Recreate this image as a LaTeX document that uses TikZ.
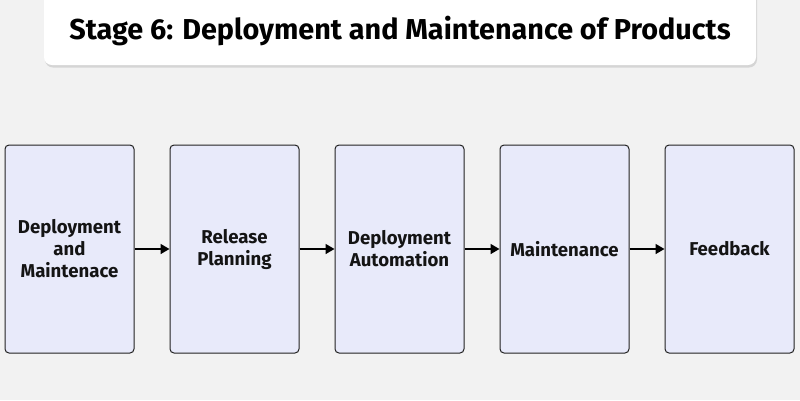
\documentclass[tikz,border=0pt]{standalone}
\usepackage{fontspec}
\setmainfont{Fira Sans}
\usetikzlibrary{shadows,arrows.meta}
\definecolor{bg}{HTML}{F2F2F2}
\definecolor{boxfill}{HTML}{E8EAFA}
\definecolor{boxline}{HTML}{222222}
\tikzset{
  stagebox/.style={draw=boxline, line width=1pt, fill=boxfill, rounded corners=4pt,
    minimum width=129pt, minimum height=208pt, inner sep=0pt, align=center,
    font=\fontsize{18.6}{22}\selectfont\bfseries, text=black!92},
  flowarrow/.style={-{Triangle[length=9pt,width=10pt]}, line width=1.6pt, black},
}
\begin{document}
\begin{tikzpicture}[x=1pt,y=-1pt]
\useasboundingbox (0,0) rectangle (800,400);
\fill[bg] (0,0) rectangle (800,400);
\node[fill=white, rounded corners=8pt, minimum width=712pt, minimum height=80pt,
  drop shadow={opacity=0.25, shadow xshift=1pt, shadow yshift=-2.5pt}] (titlebg) at (400,25) {};
\node[font=\fontsize{28.8}{32}\selectfont\bfseries, text=black] (title) at (400,31) {Stage 6: Deployment and Maintenance of Products};
\node[stagebox] (b1) at (69.5,249) {Deployment\\and\\Maintenace};
\node[stagebox] (b2) at (234.5,249) {Release\\Planning};
\node[stagebox] (b3) at (399.5,249) {Deployment\\Automation};
\node[stagebox] (b4) at (564.5,249) {Maintenance};
\node[stagebox] (b5) at (729.5,249) {Feedback};
\draw[flowarrow] (b1) -- (b2);
\draw[flowarrow] (b2) -- (b3);
\draw[flowarrow] (b3) -- (b4);
\draw[flowarrow] (b4) -- (b5);
\end{tikzpicture}
\end{document}
